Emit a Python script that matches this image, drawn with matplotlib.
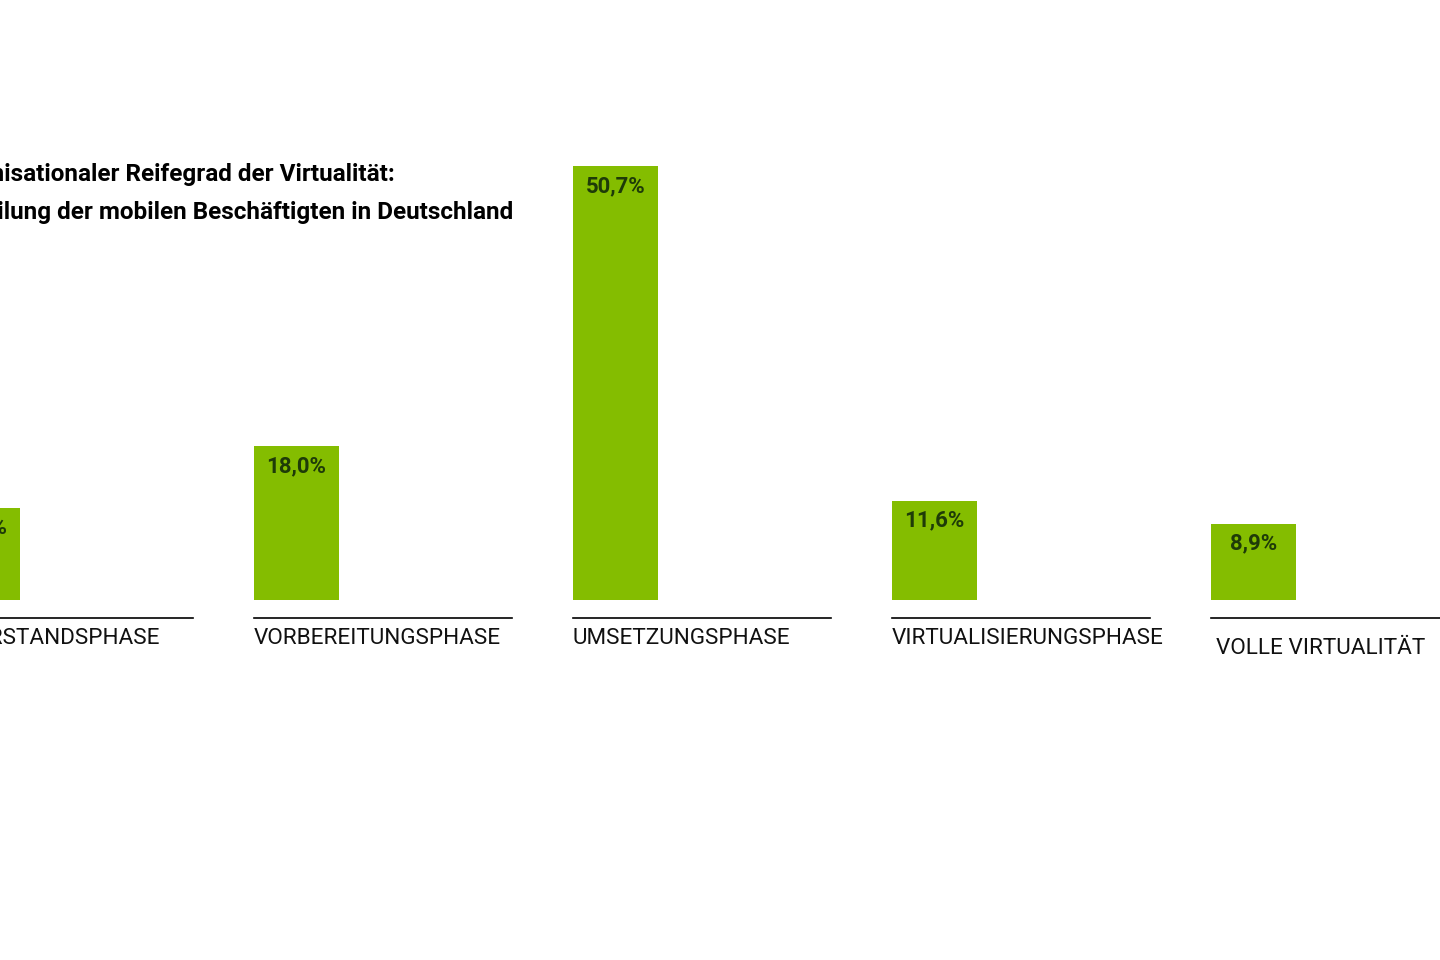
import matplotlib.pyplot as plt

# Data
phasen = ["WIDERSTANDSPHASE", "VORBEREITUNGSPHASE", "UMSETZUNGSPHASE",
          "VIRTUALISIERUNGSPHASE", "VOLLE VIRTUALITÄT"]
anteile = [10.8, 18.0, 50.7, 11.6, 8.9]
werte_text = ["10,8%", "18,0%", "50,7%", "11,6%", "8,9%"]
titel = ["Organisationaler Reifegrad der Virtualität:",
         "Verteilung der mobilen Beschäftigten in Deutschland"]

gruen = "#84bd00"
dunkel = "#1e3b08"

fig = plt.figure(figsize=(14.4, 9.6), dpi=100)
ax = fig.add_axes([0, 0, 1, 1])
ax.axis("off")

# one unit on x = 319 px, first bar starts 65 px left of the picture
px_x = 319.0
px_y = 434 / 50.7
ax.set_xlim(65 / px_x, 1505 / px_x)
ax.set_ylim(-360 / px_y, 600 / px_y)

breite = 85 / px_x
linie = 258 / px_x
for i, (name, wert, txt) in enumerate(zip(phasen, anteile, werte_text)):
    ax.bar(i, wert, width=breite, align="edge", color=gruen, clip_on=False)
    ax.text(i + breite / 2, wert - 20 / px_y, txt, ha="center", va="center",
            fontsize=16, fontweight="bold", color=dunkel, family="Roboto")
    ax.plot([i, i + linie], [-18 / px_y, -18 / px_y], color="black", lw=1.2,
            clip_on=False)
    dy = 48 if i == len(phasen) - 1 else 38
    dx = 5 / px_x if i == len(phasen) - 1 else 0
    ax.text(i + dx, -dy / px_y, name, ha="left", va="center", fontsize=16.2,
            color="#111111", family="Roboto")

x_titel = 3 / px_x
ax.text(x_titel, 425 / px_y, titel[0], ha="left", va="center", fontsize=17.5,
        fontweight="bold", family="Roboto")
ax.text(x_titel, 388 / px_y, titel[1], ha="left", va="center", fontsize=17.5,
        fontweight="bold", family="Roboto")

fig.savefig("out.png", dpi=100, facecolor="white")
